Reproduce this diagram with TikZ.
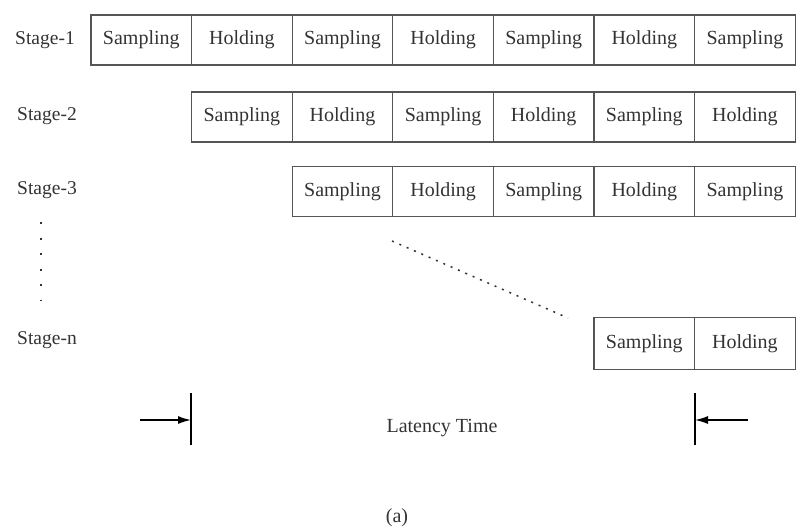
\documentclass[tikz,border=0pt]{standalone}
\usepackage{fontspec}
\setmainfont{Liberation Serif}
\usetikzlibrary{arrows.meta}
\definecolor{ink}{HTML}{333333}
\definecolor{rule}{HTML}{555555}
\begin{document}
\begin{tikzpicture}[x=1pt,y=-1pt,
  cell/.style={draw=rule, line width=1.3pt, minimum width=100.6pt, minimum height=50pt,
    inner sep=0pt, font=\fontsize{20}{23}\selectfont, text=ink},
  stagelbl/.style={anchor=west, inner sep=0pt, font=\fontsize{19.5}{22}\selectfont, text=ink},
  dotline/.style={draw=ink, line width=1.5pt, dash pattern=on 2pt off 6pt},
  vdotline/.style={draw=ink, line width=1.5pt, dash pattern=on 2pt off 13.5pt},
  bar/.style={draw=black, line width=1.7pt},
  latarrow/.style={draw=black, line width=1.5pt, -{Latex[length=13pt,width=8pt]}}]
\useasboundingbox (0,0) rectangle (796,531);
% stage labels
\node[stagelbl] (s1) at (15,40) {Stage-1};
\node[stagelbl] (s2) at (17,116) {Stage-2};
\node[stagelbl] (s3) at (17,190) {Stage-3};
\node[stagelbl] (sn) at (17,340) {Stage-n};
% row 1
\node[cell] (a1) at (141.3,40) {Sampling};
\node[cell] (a2) at (241.9,40) {Holding};
\node[cell] (a3) at (342.5,40) {Sampling};
\node[cell] (a4) at (443.1,40) {Holding};
\node[cell] (a5) at (543.7,40) {Sampling};
\node[cell] (a6) at (644.3,40) {Holding};
\node[cell] (a7) at (744.9,40) {Sampling};
% row 2
\node[cell] (b1) at (241.9,117) {Sampling};
\node[cell] (b2) at (342.5,117) {Holding};
\node[cell] (b3) at (443.1,117) {Sampling};
\node[cell] (b4) at (543.7,117) {Holding};
\node[cell] (b5) at (644.3,117) {Sampling};
\node[cell] (b6) at (744.9,117) {Holding};
% row 3
\node[cell] (c1) at (342.5,191.5) {Sampling};
\node[cell] (c2) at (443.1,191.5) {Holding};
\node[cell] (c3) at (543.7,191.5) {Sampling};
\node[cell] (c4) at (644.3,191.5) {Holding};
\node[cell] (c5) at (744.9,191.5) {Sampling};
% row n
\node[cell, minimum height=52pt] (n1) at (644.3,343.5) {Sampling};
\node[cell, minimum height=52pt] (n2) at (744.9,343.5) {Holding};
% dotted continuation lines
\coordinate (v1) at (41,222);
\coordinate (v2) at (41,300);
\draw[vdotline] (v1) -- (v2);
\coordinate (d1) at (392,241);
\coordinate (d2) at (568,318);
\draw[dotline] (d1) -- (d2);
% latency markers
\coordinate (lb1) at (191,393);
\coordinate (lb2) at (191,445);
\coordinate (la) at (140,420);
\coordinate (lam) at (191,420);
\draw[bar] (lb1) -- (lb2);
\draw[latarrow] (la) -- (lam);
\coordinate (rb1) at (695,393);
\coordinate (rb2) at (695,445);
\coordinate (ra) at (748,420);
\coordinate (ram) at (695,420);
\draw[bar] (rb1) -- (rb2);
\draw[latarrow] (ra) -- (ram);
\node[inner sep=0pt, font=\fontsize{20}{23}\selectfont, text=ink] (lt) at (442,428) {Latency Time};
\node[inner sep=0pt, font=\fontsize{20}{23}\selectfont, text=ink] (cap) at (397,518) {(a)};
\end{tikzpicture}
\end{document}
